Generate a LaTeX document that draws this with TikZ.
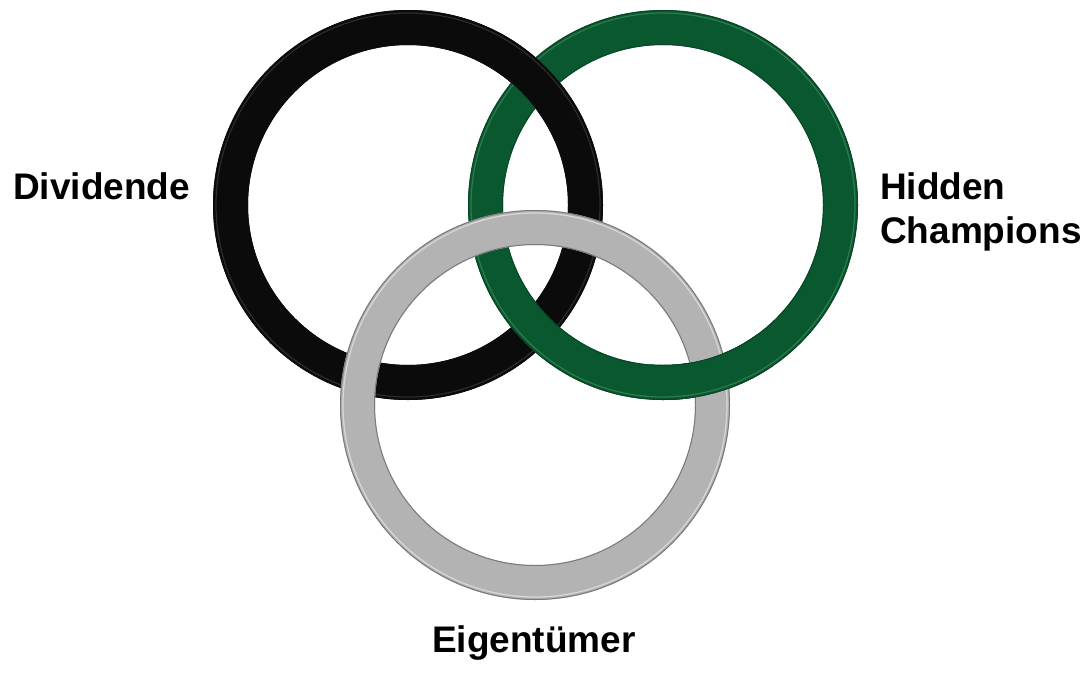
\documentclass[tikz,border=0pt]{standalone}
\usepackage{fontspec}
\setmainfont{Liberation Sans}
\definecolor{blackring}{HTML}{0B0B0B}
\definecolor{blackshine}{HTML}{2C2C2C}
\definecolor{greenring}{HTML}{0A5830}
\definecolor{greenshine}{HTML}{2F7B4F}
\definecolor{grayring}{HTML}{B3B3B3}
\definecolor{grayshine}{HTML}{D8D8D8}
\definecolor{grayrim}{HTML}{7A7A7A}
\begin{document}
\begin{tikzpicture}[x=1pt, y=-1pt,
        ring/.style={line width=35pt},
        rim/.style={line width=1pt},
        shine/.style={line width=1.2pt},
        label/.style={font=\bfseries\fontsize{37}{43}\selectfont, inner sep=0pt}]
    \useasboundingbox[fill=white] (0, 0) rectangle (1089, 680);
    % three rings: black, green, gray
    \foreach \cx/\cy/\col/\sh/\rm in {408/205/blackring/blackshine/blackring, 663/205/greenring/greenshine/greenring!80!black, 535/405/grayring/grayshine/grayrim} {
        \draw[ring, draw=\col] (\cx, \cy) circle (177.5pt);
        \draw[rim, draw=\rm] (\cx, \cy) circle (194.5pt) (\cx, \cy) circle (160.5pt);
        \draw[shine, draw=\sh] (\cx, \cy) circle (192pt);
    }
    % green over gray, lower right
    \begin{scope}
        \clip (712, 374) circle (62pt);
        \draw[ring, draw=greenring] (663, 205) circle (177.5pt);
        \draw[rim, draw=greenring!80!black] (663, 205) circle (194.5pt) (663, 205) circle (160.5pt);
        \draw[shine, draw=greenshine] (663, 205) circle (192pt);
    \end{scope}
    % black over green, top
    \begin{scope}
        \clip (535, 82) circle (62pt);
        \draw[ring, draw=blackring] (408, 205) circle (177.5pt);
        \draw[shine, draw=blackshine] (408, 205) circle (192pt);
    \end{scope}
    \node[label, anchor=base west] (dividende) at (13, 199) {Dividende};
    \node[label, anchor=base west] (hidden) at (880, 199) {Hidden};
    \node[label, anchor=base west] (champions) at (880, 243) {Champions};
    \node[label, anchor=base] (eigentuemer) at (534, 652) {Eigentümer};
\end{tikzpicture}
\end{document}
